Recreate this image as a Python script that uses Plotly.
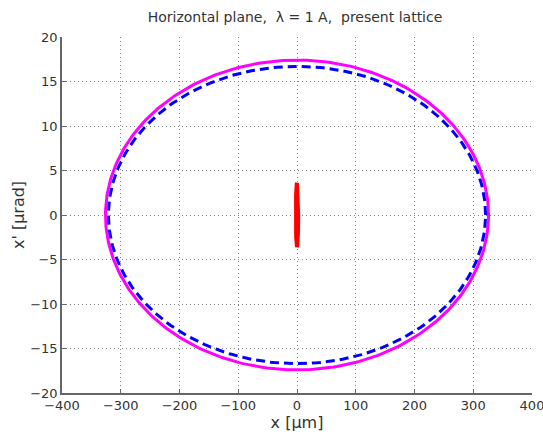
import numpy as np
import plotly.graph_objects as go

# Ellipse semi-axes: (x half-width [um], x' half-height [urad])
magenta_axes = [326.0, 17.4]
blue_axes = [321.0, 16.7]
red_axes = [2.0, 3.6]

x_ticks = [-400, -300, -200, -100, 0, 100, 200, 300, 400]
y_ticks = [-20, -15, -10, -5, 0, 5, 10, 15, 20]

t = np.linspace(0, 2 * np.pi, 361)

def ellipse(ax):
    return ax[0] * np.cos(t), ax[1] * np.sin(t)

fig = go.Figure()
mx, my = ellipse(magenta_axes)
fig.add_trace(go.Scatter(x=mx, y=my, mode="lines", line=dict(color="#ff00ff", width=3)))
bx, by = ellipse(blue_axes)
fig.add_trace(go.Scatter(x=bx, y=by, mode="lines", line=dict(color="#0000ff", width=3, dash="9px,5px")))
rx, ry = ellipse(red_axes)
fig.add_trace(go.Scatter(x=rx, y=ry, mode="lines", line=dict(color="#ff0000", width=4)))

font = dict(family="DejaVu Sans, sans-serif", size=13, color="#333333")
nb = "\u00a0"
fig.update_layout(
    width=543, height=438,
    margin=dict(l=62, r=11, t=37, b=45, autoexpand=False),
    paper_bgcolor="white", plot_bgcolor="white",
    showlegend=False,
    font=font,
    title=dict(text=f"Horizontal plane,{nb}{nb}λ = 1 A,{nb}{nb}present lattice",
               x=295 / 543, xanchor="center", y=1 - 17 / 438, yanchor="middle",
               font=dict(size=14, color="#333333")),
    xaxis=dict(range=[-400, 400], tickvals=x_ticks, showgrid=True, gridcolor="#808080",
               griddash="1px,3px", gridwidth=1, zeroline=False, showline=True, linecolor="#666666",
               linewidth=1.5, ticks="inside", ticklen=4, tickcolor="#666666",
               ticklabeloverflow="allow",
               title=dict(text="x [μm]", standoff=2), mirror=False, automargin=False),
    yaxis=dict(range=[-20, 20], tickvals=y_ticks, showgrid=True, gridcolor="#808080",
               griddash="1px,3px", gridwidth=1, zeroline=False, showline=True, linecolor="#666666",
               linewidth=1.5, ticks="inside", ticklen=4, tickcolor="#666666",
               ticklabeloverflow="allow",
               title=dict(text="x' [μrad]", standoff=2), mirror=False, automargin=False),
)
fig.write_html("out.html")
